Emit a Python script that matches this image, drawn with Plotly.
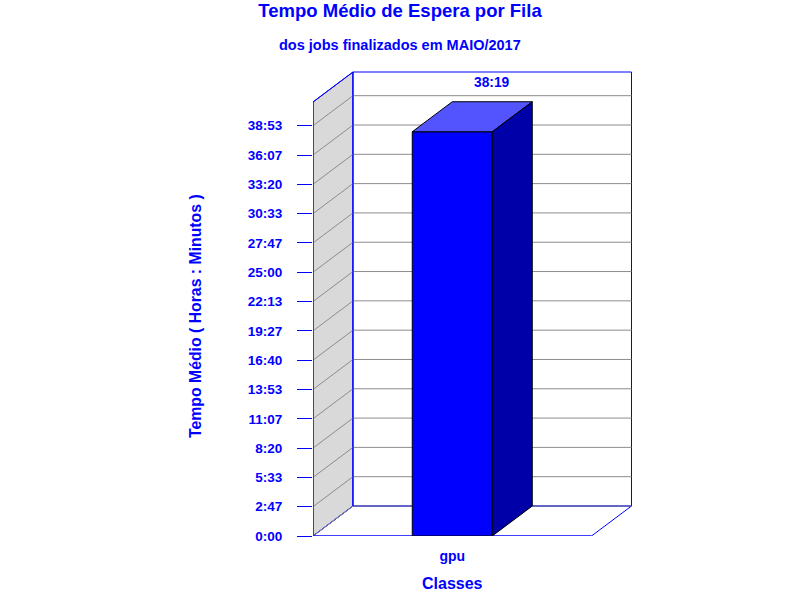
import plotly.graph_objects as go

# dados
classes = ['gpu']
tempo_medio_seg = [137940]  # 38:19
tick_seg = [0, 10000, 20000, 30000, 40000, 50000, 60000, 70000,
            80000, 90000, 100000, 110000, 120000, 130000, 140000]
tick_labels = ['0:00', '2:47', '5:33', '8:20', '11:07', '13:53', '16:40', '19:27',
               '22:13', '25:00', '27:47', '30:33', '33:20', '36:07', '38:53']

BLUE = '#0000ff'
GRID = '#8c8c8c'
FONT = 'Liberation Sans'


def hhmm(s):
    m = int(round(s / 60.0))
    return f'{m // 60}:{m % 60:02d}'


# geometria do "3d" (pseudo-perspectiva como no jpgraph)
L, R, T, B = 313, 166, 69, 64
plot_w = 800 - L - R
plot_h = 600 - T - B
front_px = 278.5           # largura do plano frontal
px_per_seg = 410.3 / 140000
dx_px, dy_px = 40, 30

x0, x1 = -0.5, 0.5
x_max = x0 + plot_w / front_px
dx = dx_px / front_px
y_max = plot_h / px_per_seg
wall_top = (536 - 72) / px_per_seg
dy = dy_px / px_per_seg
bar_w = 80 / front_px

shapes = []
# parede lateral e parede do fundo
shapes.append(dict(type='path', layer='below',
                   path=f'M{x0},0 L{x0+dx},{dy} L{x0+dx},{wall_top} L{x0},{wall_top-dy} Z',
                   fillcolor='#d9d9d9', line=dict(color=BLUE, width=1)))
shapes.append(dict(type='rect', layer='below', x0=x0 + dx, y0=dy, x1=x1 + dx, y1=wall_top,
                   fillcolor='white', line=dict(color=BLUE, width=1)))
shapes.append(dict(type='path', layer='below',
                   path=f'M{x0},0 L{x1},0 L{x1+dx},{dy} L{x0+dx},{dy} Z',
                   line=dict(color=BLUE, width=1)))
# linhas de grade
for t in tick_seg:
    shapes.append(dict(type='path', layer='below',
                       path=f'M{x0},{t} L{x0+dx},{t+dy} L{x1+dx},{t+dy}',
                       line=dict(color=GRID, width=1)))
# contorno frontal por cima
shapes.append(dict(type='path', layer='below',
                   path=f'M{x1},0 L{x0},0 L{x0},{wall_top-dy} L{x0+dx},{wall_top} L{x0+dx},{dy}',
                   line=dict(color=BLUE, width=1)))

fig = go.Figure()

xs = list(range(len(classes)))
fig.add_trace(go.Bar(x=xs, y=tempo_medio_seg, width=bar_w,
                     marker=dict(color=BLUE, line=dict(color='black', width=1)),
                     hoverinfo='skip', showlegend=False))

for xc, v in zip(xs, tempo_medio_seg):
    a, b = xc - bar_w / 2, xc + bar_w / 2
    # topo
    fig.add_trace(go.Scatter(x=[a, b, b + dx, a + dx, a], y=[v, v, v + dy, v + dy, v],
                             fill='toself', fillcolor='#5454ff', mode='lines',
                             line=dict(color='black', width=1),
                             hoverinfo='skip', showlegend=False))
    # lateral
    fig.add_trace(go.Scatter(x=[b, b + dx, b + dx, b, b], y=[0, dy, v + dy, v, 0],
                             fill='toself', fillcolor='#0000a8', mode='lines',
                             line=dict(color='black', width=1),
                             hoverinfo='skip', showlegend=False))
    fig.add_annotation(x=xc + dx, y=v + dy, text=f'<b>{hhmm(v)}</b>', showarrow=False,
                       xanchor='center', yanchor='middle', yshift=19,
                       font=dict(family=FONT, size=13.8, color=BLUE))


def label(px, py, text, size, angle=0):
    # posição em pixels da página -> coordenadas paper
    fig.add_annotation(xref='paper', yref='paper',
                       x=(px - L) / plot_w, y=(600 - B - py) / plot_h,
                       xanchor='center', yanchor='middle', textangle=angle,
                       text=f'<b>{text}</b>', showarrow=False,
                       font=dict(family=FONT, size=size, color=BLUE))


label(400, 45, 'dos jobs finalizados em MAIO/2017', 14.5)
label(195, 316, 'Tempo Médio ( Horas : Minutos )', 15.8, angle=-90)
label(452.5, 583, 'Classes', 16)

fig.update_layout(
    width=800, height=600,
    margin=dict(l=L, r=R, t=T, b=B),
    paper_bgcolor='white', plot_bgcolor='rgba(0,0,0,0)',
    title=dict(text='<b>Tempo Médio de Espera por Fila</b>', x=0.5, xanchor='center',
               y=1 - 11 / 600, yanchor='middle',
               font=dict(family=FONT, size=18.5, color=BLUE)),
    shapes=shapes,
    showlegend=False,
)
fig.update_xaxes(range=[x0, x_max], showgrid=False, zeroline=False, showline=False,
                 tickvals=xs, ticktext=[f'<b>{c}</b>' for c in classes], ticks='',
                 ticklabelstandoff=10,
                 tickfont=dict(family=FONT, size=14, color=BLUE), fixedrange=True)
fig.update_yaxes(range=[0, y_max], showgrid=False, zeroline=False, showline=False,
                 tickvals=tick_seg, ticktext=[f'<b>{t}</b>' for t in tick_labels],
                 ticks='outside', ticklen=15, tickcolor=BLUE, tickwidth=1,
                 ticklabelstandoff=12,
                 tickfont=dict(family=FONT, size=13.5, color=BLUE), fixedrange=True)

# sem margem do body, para a figura ocupar a janela 800x600 exata
fig.write_html('out.html', config={'displayModeBar': False},
               post_script="document.body.style.margin='0';")
